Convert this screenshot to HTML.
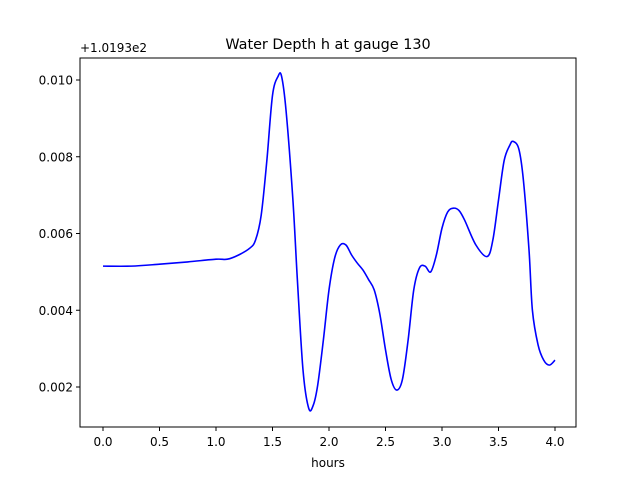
<!DOCTYPE html>
<html><head><meta charset="utf-8"><style>
body{margin:0;background:#fff;}
svg text{font-family:"DejaVu Sans","Liberation Sans",sans-serif;fill:#000;}
</style></head><body>
<svg id="chart" width="640" height="480">
<rect x="0" y="0" width="640" height="480" fill="#fff"/>
<text x="328" y="49" font-size="14.4" text-anchor="middle">Water Depth h at gauge 130</text>
<text x="80" y="52" font-size="12">+1.0193e2</text>
<text x="328" y="467" font-size="12" text-anchor="middle">hours</text>
<g id="ticks"></g>
<path id="line" fill="none" stroke="#0000ff" stroke-width="1.6"/>
<rect x="80" y="58" width="496" height="369" fill="none" stroke="#000" stroke-width="1"/>
</svg>
<script>
const hours=[0,0.25,0.5,0.75,1.0,1.1,1.2,1.3,1.35,1.4,1.45,1.5,1.55,1.58,1.62,1.68,1.72,1.77,1.82,1.86,1.9,1.95,2.0,2.05,2.1,2.15,2.2,2.25,2.3,2.35,2.4,2.45,2.5,2.55,2.6,2.65,2.7,2.75,2.8,2.85,2.9,2.95,3.0,3.05,3.1,3.15,3.2,3.3,3.4,3.45,3.5,3.55,3.6,3.63,3.68,3.72,3.77,3.8,3.85,3.9,3.95,4.0];
const depth=[0.00515,0.00515,0.0052,0.00526,0.00533,0.00533,0.00544,0.00562,0.00583,0.00648,0.0079,0.0096,0.0101,0.0101,0.0092,0.0069,0.0048,0.00244,0.00145,0.00152,0.00205,0.00322,0.00453,0.00536,0.0057,0.0057,0.00544,0.00523,0.00505,0.0048,0.00453,0.0039,0.00297,0.0022,0.00192,0.0022,0.00322,0.00453,0.0051,0.00515,0.005,0.00544,0.00614,0.00656,0.00666,0.0066,0.00635,0.0057,0.0054,0.00583,0.00687,0.0079,0.0083,0.0084,0.0082,0.0074,0.00557,0.004,0.0031,0.0027,0.00257,0.0027];
const xTicks=[0,0.5,1.0,1.5,2.0,2.5,3.0,3.5,4.0];
const xTickLabels=["0.0","0.5","1.0","1.5","2.0","2.5","3.0","3.5","4.0"];
const yTicks=[0.002,0.004,0.006,0.008,0.010];
const yTickLabels=["0.002","0.004","0.006","0.008","0.010"];
const X=h=>103+h*113;
const Y=v=>80+(0.010-v)/0.001*38.375;
const NS="http://www.w3.org/2000/svg";
const g=document.getElementById('ticks');
function mk(t,a){const e=document.createElementNS(NS,t);for(const k in a)e.setAttribute(k,a[k]);return e;}
xTicks.forEach((t,i)=>{
 const l=mk('line',{x1:X(t),x2:X(t),y1:427,y2:431,stroke:'#000'});
 
 
 g.appendChild(l);
 const tx=mk('text',{x:X(t),y:446,'font-size':12,'text-anchor':'middle'});
 tx.textContent=xTickLabels[i];
 
 
 g.appendChild(tx);
});
yTicks.forEach((t,i)=>{
 const l=mk('line',{x1:76,x2:80,y1:Y(t),y2:Y(t),stroke:'#000'});
 
 
 g.appendChild(l);
 const tx=mk('text',{x:73,y:Y(t)+4.5,'font-size':12,'text-anchor':'end'});
 tx.textContent=yTickLabels[i];
 
 
 g.appendChild(tx);
});
const P=hours.map((h,i)=>[X(h),Y(depth[i])]);
let d='M'+P[0][0]+','+P[0][1];
for(let i=0;i<P.length-1;i++){
 const p0=P[Math.max(0,i-1)],p1=P[i],p2=P[i+1],p3=P[Math.min(P.length-1,i+2)];
 const c1=[p1[0]+(p2[0]-p0[0])/6,p1[1]+(p2[1]-p0[1])/6];
 const c2=[p2[0]-(p3[0]-p1[0])/6,p2[1]-(p3[1]-p1[1])/6];
 d+=' C'+c1[0]+','+c1[1]+' '+c2[0]+','+c2[1]+' '+p2[0]+','+p2[1];
}
document.getElementById('line').setAttribute('d',d);
</script>
</body></html>
